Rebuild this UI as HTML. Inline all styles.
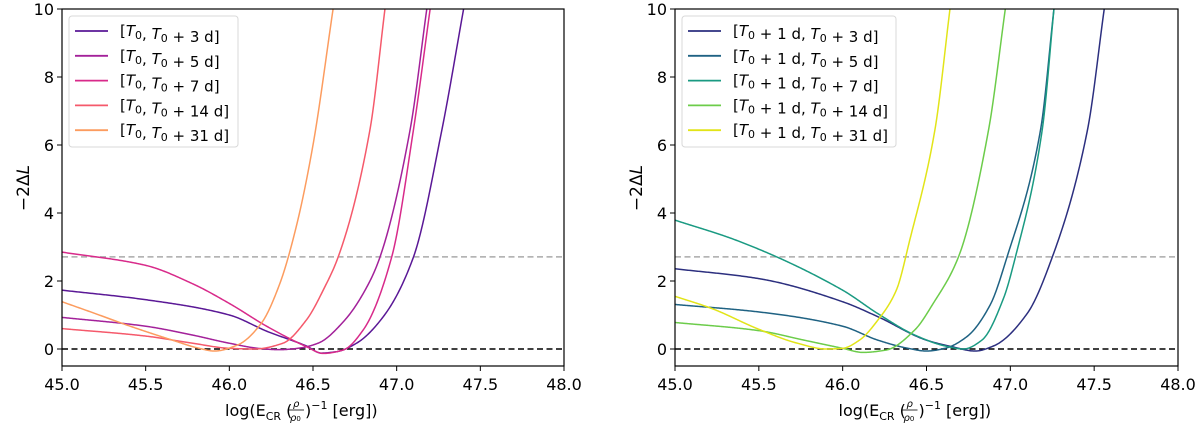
<!DOCTYPE html>
<html><head><meta charset="utf-8"><style>
body{margin:0;background:#fff}
svg{display:block;font-family:"DejaVu Sans","Liberation Sans",sans-serif}
</style></head><body>
<svg id="c" width="1200" height="431" viewBox="0 0 1200 431"></svg>
<script>
// ---- data ----
const xTicks=[45.0,45.5,46.0,46.5,47.0,47.5,48.0];
const yTicks=[0,2,4,6,8,10];
const thresholdLevel=2.71;
const leftLabels=["[T0, T0 + 3 d]","[T0, T0 + 5 d]","[T0, T0 + 7 d]","[T0, T0 + 14 d]","[T0, T0 + 31 d]"];
const rightLabels=["[T0 + 1 d, T0 + 3 d]","[T0 + 1 d, T0 + 5 d]","[T0 + 1 d, T0 + 7 d]","[T0 + 1 d, T0 + 14 d]","[T0 + 1 d, T0 + 31 d]"];
const leftColors=["#5a1896","#a3219a","#d82a8a","#f5596b","#fc9c5f"];
const rightColors=["#2c2f7f","#1f6283","#1a9a82","#6ccc4a","#e2e418"];
const L3x=[45,45.5,46,46.23,46.46,46.55,46.64,46.76,46.92,47.1,47.27,47.4];
const L3y=[1.73,1.45,1.0,0.51,0.09,-0.12,-0.08,0.17,0.95,2.7,6.44,10];
const L5x=[45,45.5,45.78,46,46.19,46.3,46.41,46.53,46.69,46.83,46.9,47.08,47.18];
const L5y=[0.93,0.67,0.41,0.17,0.01,-0.02,0.02,0.17,0.85,1.9,2.7,6.44,10];
const L7x=[45,45.5,45.78,46,46.23,46.46,46.56,46.68,46.8,46.97,47.1,47.2];
const L7y=[2.85,2.46,1.92,1.34,0.65,0.07,-0.13,-0.03,0.56,2.7,6.44,10];
const L14x=[45,45.5,45.78,46,46.15,46.32,46.46,46.57,46.65,46.84,46.93];
const L14y=[0.6,0.38,0.17,0.02,0,0.17,0.85,1.82,2.7,6.44,10];
const L31x=[45,45.2,45.39,45.66,45.82,45.91,46.05,46.19,46.3,46.4,46.5,46.62];
const L31y=[1.39,1.04,0.7,0.26,0.02,-0.06,0.12,0.75,1.9,3.6,6.0,10];
const R3x=[45,45.5,46,46.21,46.5,46.65,46.79,46.9,47.1,47.25,47.46,47.56];
const R3y=[2.36,2.07,1.39,0.95,0.26,0.07,-0.06,0.09,1.04,2.7,6.44,10];
const R5x=[45,45.5,46,46.21,46.39,46.5,46.61,46.74,46.88,46.98,47.18,47.26];
const R5y=[1.31,1.09,0.67,0.26,0.02,-0.06,0.02,0.36,1.3,2.7,6.44,10];
const R7x=[45,45.37,46,46.21,46.43,46.61,46.72,46.83,46.96,47.03,47.19,47.26];
const R7y=[3.79,3.19,1.73,1.04,0.41,0.09,0,0.26,1.5,2.7,6.44,10];
const R14x=[45,45.5,45.77,46,46.12,46.26,46.43,46.54,46.69,46.87,46.97];
const R14y=[0.78,0.54,0.26,0.02,-0.1,-0.03,0.56,1.34,2.7,6.44,10];
const R31x=[45,45.22,45.5,45.73,45.9,46,46.1,46.21,46.32,46.4,46.55,46.64];
const R31y=[1.55,1.19,0.58,0.17,0,0.02,0.26,0.85,1.73,3.2,6.44,10];
const leftSeries=[[L3x,L3y],[L5x,L5y],[L7x,L7y],[L14x,L14y],[L31x,L31y]];
const rightSeries=[[R3x,R3y],[R5x,R5y],[R7x,R7y],[R14x,R14y],[R31x,R31y]];

const NS="http://www.w3.org/2000/svg";
const svg=document.getElementById('c');
function mk(tag,attrs,parent){const e=document.createElementNS(NS,tag);for(const k in attrs)e.setAttribute(k,attrs[k]);(parent||svg).appendChild(e);return e;}

// monotone cubic (Fritsch-Carlson) interpolation
function interp(xs,ys){
  const n=xs.length,d=[],m=new Array(n);
  for(let i=0;i<n-1;i++)d.push((ys[i+1]-ys[i])/(xs[i+1]-xs[i]));
  m[0]=d[0];m[n-1]=d[n-2];
  for(let i=1;i<n-1;i++){
    if(d[i-1]*d[i]<=0)m[i]=0;
    else{
      const h0=xs[i]-xs[i-1],h1=xs[i+1]-xs[i];
      const w1=2*h1+h0,w2=h1+2*h0;
      m[i]=(w1+w2)/(w1/d[i-1]+w2/d[i]);
    }
  }
  return function(x){
    let i=0;while(i<n-2&&x>xs[i+1])i++;
    const h=xs[i+1]-xs[i],t=(x-xs[i])/h,t2=t*t,t3=t2*t;
    return (2*t3-3*t2+1)*ys[i]+(t3-2*t2+t)*h*m[i]+(-2*t3+3*t2)*ys[i+1]+(t3-t2)*h*m[i+1];
  };
}

function panel(ox,x1,series,colors,labels,name){
  const x0=ox, y0=9, yb=366, xmin=45, xmax=48, ymin=-0.5, ymax=10;
  const sx=v=>x0+(v-xmin)/(xmax-xmin)*(x1-x0);
  const sy=v=>yb-(v-ymin)/(ymax-ymin)*(yb-y0);
  const g=mk('g',{});
  
  
  const cid='clip-'+name;
  const cp=mk('clipPath',{id:cid},g);
  mk('rect',{x:x0,y:y0,width:x1-x0,height:yb-y0},cp);
  const thr=mk('line',{x1:x0,x2:x1,y1:sy(thresholdLevel),y2:sy(thresholdLevel),stroke:'#aaaaaa','stroke-width':1.5,'stroke-dasharray':'6,3.5'},g);
  
  
  const zl=mk('line',{x1:x0,x2:x1,y1:sy(0),y2:sy(0),stroke:'#000','stroke-width':1.5,'stroke-dasharray':'6,3.5'},g);
  
  
  const cg=mk('g',{'clip-path':'url(#'+cid+')'},g);
  series.forEach((s,i)=>{
    const xs=s[0],ys=s[1];
    const f=interp(xs,ys);
    const a=xs[0],b=xs[xs.length-1],N=400;
    let d='';
    for(let k=0;k<=N;k++){
      const x=a+(b-a)*k/N;
      d+=(k?' L':'M')+sx(x).toFixed(2)+','+sy(f(x)).toFixed(2);
    }
    const p=mk('path',{d:d,fill:'none',stroke:colors[i],'stroke-width':1.5,'stroke-linejoin':'round'},cg);
    
    
  });
  const fr=mk('rect',{x:x0,y:y0,width:x1-x0,height:yb-y0,fill:'none',stroke:'#000','stroke-width':1.2},g);
  
  
  xTicks.forEach(t=>{
    mk('line',{x1:sx(t),x2:sx(t),y1:yb,y2:yb+5,stroke:'#000','stroke-width':1},g);
    const tx=mk('text',{x:sx(t),y:390,'text-anchor':'middle','font-size':16},g);
    tx.textContent=t.toFixed(1);
    
    
  });
  yTicks.forEach(t=>{
    mk('line',{x1:x0-5,x2:x0,y1:sy(t),y2:sy(t),stroke:'#000','stroke-width':1},g);
    const tx=mk('text',{x:x0-8,y:sy(t)+6,'text-anchor':'end','font-size':16},g);
    tx.textContent=t;
    
    
  });
  const yl=mk('text',{x:0,y:0,transform:'translate('+(x0-33)+',188) rotate(-90)','text-anchor':'middle','font-size':17},g);
  yl.innerHTML='−2Δ<tspan font-style="italic">L</tspan>';
  
  
  const cx=(x0+x1)/2;
  const xl=mk('text',{x:cx-88,y:416,'font-size':16},g);
  xl.innerHTML='log(E<tspan font-size="11" dy="4">CR</tspan><tspan dy="-4"> (</tspan>';
  
  
  mk('text',{x:cx-20,y:407,'font-size':10,'font-style':'italic'},g).textContent='ρ';
  mk('line',{x1:cx-24,x2:cx-9,y1:410,y2:410,stroke:'#000','stroke-width':0.8},g);
  const den=mk('text',{x:cx-23,y:421,'font-size':10,'font-style':'italic'},g);
  den.innerHTML='ρ<tspan font-size="7" font-style="normal">0</tspan>';
  const xl2=mk('text',{x:cx-8,y:416,'font-size':16},g);
  xl2.innerHTML=')<tspan font-size="11" dy="-7">−1</tspan><tspan dy="7"> [erg])</tspan>';
  const lx=x0+7, ly=16, lw=(name==='left-panel')?169:214, lh=131;
  const lg=mk('g',{},g);
  
  
  mk('rect',{x:lx,y:ly,width:lw,height:lh,rx:3,fill:'#fff','fill-opacity':0.85,stroke:'#d8d8d8','stroke-width':1},lg);
  labels.forEach((lab,i)=>{
    const yy=31+i*24.8;
    const e=mk('g',{},lg);
    
    
    mk('line',{x1:lx+6,x2:lx+39,y1:yy,y2:yy,stroke:colors[i],'stroke-width':1.8},e);
    const t=mk('text',{x:lx+51,y:yy+5,'font-size':15},e);
    t.innerHTML=lab.replace(/T0/g,'<tspan font-style="italic">T</tspan><tspan font-size="11" dy="3">0</tspan><tspan dy="-3"></tspan>');
  });
}
panel(62,564,leftSeries,leftColors,leftLabels,'left-panel');
panel(675,1178,rightSeries,rightColors,rightLabels,'right-panel');
</script>
</body></html>
